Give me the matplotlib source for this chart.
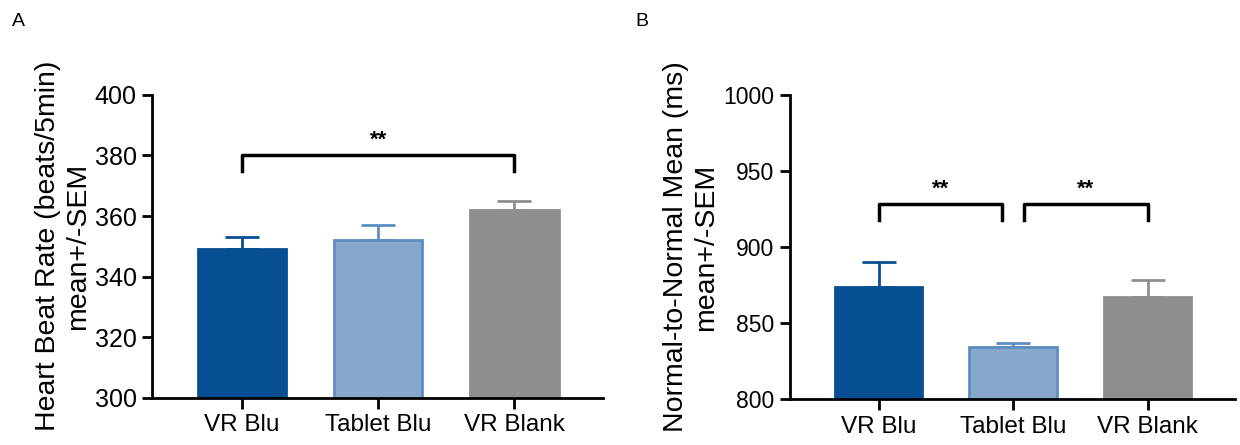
import numpy as np
import matplotlib.pyplot as plt

plt.rcParams['font.family'] = ['Liberation Sans', 'DejaVu Sans']

groups = ['VR Blu', 'Tablet Blu', 'VR Blank']

# panel A: heart beat rate
hr_mean = [349, 352, 362]
hr_sem = [4, 5, 3]

# panel B: normal-to-normal mean
nn_mean = [874, 834, 867]
nn_sem = [16, 3, 11]

face = ['#064f93', '#88a8cb', '#8e8e8e']
edge = ['#064f93', '#5d8ec2', '#8e8e8e']

fig = plt.figure(figsize=(12.4, 4.45), dpi=100)
axA = fig.add_axes([0.1226, 0.106, 0.3637, 0.681])
axB = fig.add_axes([0.637, 0.103, 0.359, 0.684])


def draw(ax, means, sems, ylim, ticks, ylabel, ytick_size):
    x = np.arange(len(groups))
    ax.bar(x, means, width=0.65, color=face, edgecolor=edge, linewidth=2, zorder=2)
    for i in range(len(x)):
        ax.errorbar(x[i], means[i], yerr=[[0], [sems[i]]], color=edge[i],
                    capsize=12, elinewidth=2, capthick=2, zorder=1)
    ax.set_ylim(*ylim)
    ax.set_xlim(-0.66, 2.65)
    ax.set_yticks(ticks)
    ax.set_xticks(x)
    ax.set_xticklabels(groups, fontsize=17.5)
    ax.tick_params(axis='y', labelsize=ytick_size, width=2, length=7, pad=4)
    ax.tick_params(axis='x', width=2, length=8, pad=4)
    for s in ['top', 'right']:
        ax.spines[s].set_visible(False)
    for s in ['left', 'bottom']:
        ax.spines[s].set_linewidth(2)
    ax.set_ylabel(ylabel, fontsize=20.5, linespacing=1.2, labelpad=3)


def bracket(ax, x1, x2, y, drop, text_y):
    ax.plot([x1, x1, x2, x2], [y - drop, y, y, y - drop], color='black', lw=2.5,
            clip_on=False)
    ax.text((x1 + x2) / 2, text_y, '**', ha='center', va='center', fontsize=16,
            fontweight='bold')


draw(axA, hr_mean, hr_sem, (300, 400), [300, 320, 340, 360, 380, 400],
     'Heart Beat Rate (beats/5min)\nmean+/-SEM', 18)
bracket(axA, 0, 2, 380, 5, 385)

draw(axB, nn_mean, nn_sem, (800, 1000), [800, 850, 900, 950, 1000],
     'Normal-to-Normal Mean (ms)\nmean+/-SEM', 16.5)
bracket(axB, 0, 0.92, 928, 10, 938)
bracket(axB, 1.08, 2, 928, 10, 938)

fig.text(0.01, 0.97, 'A', fontsize=14, va='top')
fig.text(0.512, 0.97, 'B', fontsize=14, va='top')

fig.savefig('out.png', dpi=100)
